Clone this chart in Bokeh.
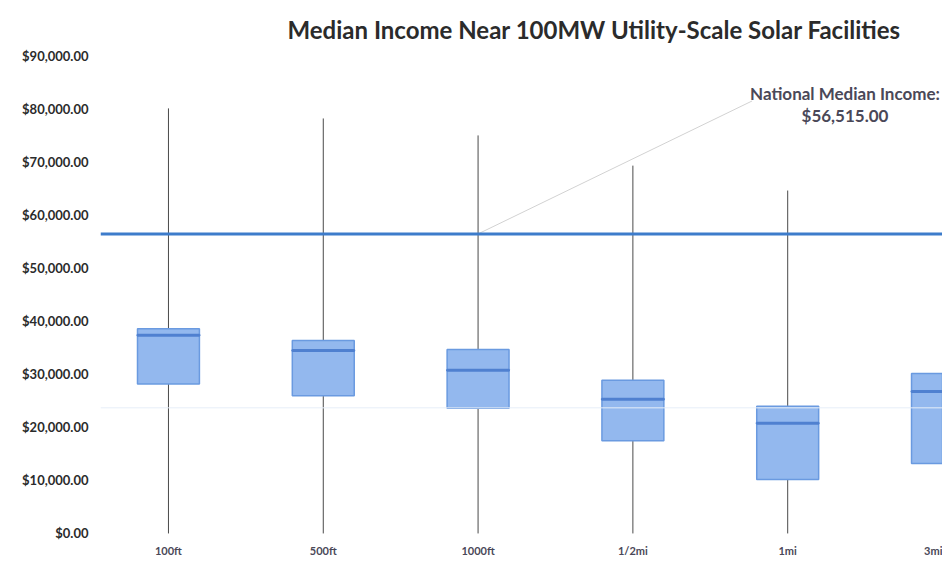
from bokeh.plotting import figure
from bokeh.models import FixedTicker, ColumnDataSource, Span, Label
from bokeh.embed import file_html
from bokeh.resources import INLINE

categories = ["100ft", "500ft", "1000ft", "1/2mi", "1mi", "3mi"]
whisker_low = [0, 0, 0, 0, 0, 0]
q1 = [28200, 26000, 23600, 17500, 10200, 13200]
median = [37400, 34500, 30800, 25300, 20800, 26800]
q3 = [38600, 36400, 34700, 28900, 24000, 30200]
whisker_high = [80200, 78300, 75100, 69400, 64700, 62800]
national_median = 56515
y_ticks = [0, 10000, 20000, 30000, 40000, 50000, 60000, 70000, 80000, 90000]
faint_ref = 23700

xs = list(range(len(categories)))
src = ColumnDataSource(dict(x=xs, lo=whisker_low, q1=q1, med=median, q3=q3, hi=whisker_high))

p = figure(width=942, height=565, output_backend="svg", toolbar_location=None,
           x_range=(-0.439, 5.0), y_range=(-1330, 91500),
           min_border_left=100, min_border_right=0, min_border_bottom=25, min_border_top=48)

p.title.text = "Median Income Near 100MW Utility-Scale Solar Facilities"
p.title.text_font = "Lato"
p.title.text_font_size = "24px"
p.title.text_font_style = "bold"
p.title.text_color = "#2b2b2b"
p.title.align = "left"
p.title.offset = 187

p.outline_line_color = None
p.xgrid.grid_line_color = None
p.ygrid.grid_line_color = None

# faint reference line
p.add_layout(Span(location=faint_ref, dimension="width", line_color="#e6eef8", line_width=1))

# whiskers
p.segment(x0="x", y0="lo", x1="x", y1="hi", source=src, line_color="#4a4a4a", line_width=1)
# boxes
p.vbar(x="x", width=0.4, bottom="q1", top="q3", source=src,
       fill_color="#93b8ee", line_color="#6a9ae0", line_width=1.5)
# medians
p.rect(x="x", y="med", width=0.4, height=1, height_units="screen", source=src,
       fill_color=None, line_color="#4f80d0", line_width=2)

# national median line
p.add_layout(Span(location=national_median, dimension="width", line_color="#3d7ccb", line_width=3))

# annotation leader line and text
ann_x0, ann_x1, ann_y1 = 2, 3.77, 81600
p.line([ann_x0, ann_x1], [national_median, ann_y1], line_color="#d2d2d2", line_width=1)
p.add_layout(Label(x=4.37, y=83000, text="National Median Income:", text_align="center",
                   text_baseline="middle", text_font="Lato", text_font_style="bold",
                   text_font_size="17px", text_color="#4a4858"))
p.add_layout(Label(x=4.37, y=78900, text="$" + f"{national_median:,.2f}", text_align="center",
                   text_baseline="middle", text_font="Lato", text_font_style="bold",
                   text_font_size="17px", text_color="#4a4858"))

# axes
p.xaxis.ticker = FixedTicker(ticks=xs)
p.xaxis.major_label_overrides = {i: c for i, c in enumerate(categories)}
p.xaxis.axis_line_color = None
p.xaxis.major_tick_line_color = None
p.xaxis.minor_tick_line_color = None
p.xaxis.major_tick_out = 0
p.xaxis.major_tick_in = 0
p.xaxis.major_label_standoff = 3
p.xaxis.major_label_text_font = "Lato"
p.xaxis.major_label_text_font_style = "bold"
p.xaxis.major_label_text_font_size = "11px"
p.xaxis.major_label_text_color = "#4a4858"

p.yaxis.ticker = FixedTicker(ticks=y_ticks)
p.yaxis.major_label_overrides = {t: "$" + f"{t:,.2f}" for t in y_ticks}
p.yaxis.axis_line_color = None
p.yaxis.major_tick_line_color = None
p.yaxis.minor_tick_line_color = None
p.yaxis.major_tick_out = 0
p.yaxis.major_tick_in = 0
p.yaxis.major_label_standoff = 12
p.yaxis.major_label_text_font = "Lato"
p.yaxis.major_label_text_font_style = "bold"
p.yaxis.major_label_text_font_size = "13px"
p.yaxis.major_label_text_color = "#2b2b2b"

open("out.html", "w").write(file_html(p, INLINE))
